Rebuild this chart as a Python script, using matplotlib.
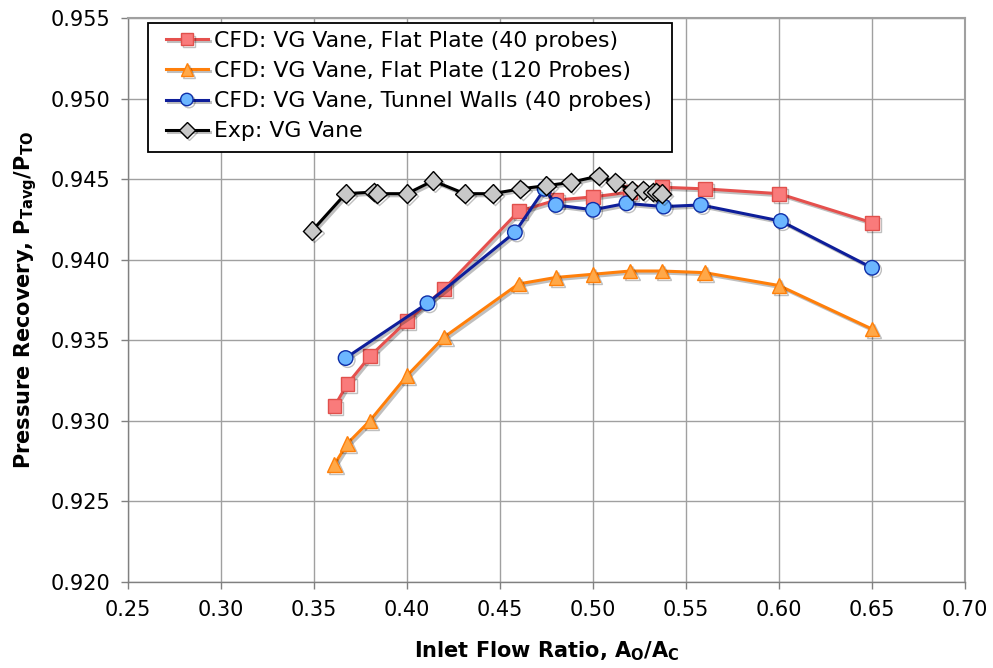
import matplotlib
matplotlib.use('Agg')
import matplotlib.pyplot as plt
import matplotlib.patheffects as pe
from matplotlib.patches import Rectangle

plt.rcParams['font.family'] = 'DejaVu Sans'
plt.rcParams['mathtext.fontset'] = 'dejavusans'
plt.rcParams['mathtext.default'] = 'bf'

font = 15

# CFD: VG Vane, Flat Plate (40 probes)
x_fp40 = [0.361, 0.368, 0.380, 0.400, 0.420, 0.460, 0.480, 0.500, 0.520, 0.537, 0.560, 0.600, 0.650]
y_fp40 = [0.9309, 0.9323, 0.9340, 0.9362, 0.9382, 0.9430, 0.9437, 0.9439, 0.9442, 0.9445, 0.9444, 0.9441, 0.9423]

# CFD: VG Vane, Flat Plate (120 Probes)
x_fp120 = [0.361, 0.368, 0.380, 0.400, 0.420, 0.460, 0.480, 0.500, 0.520, 0.537, 0.560, 0.600, 0.650]
y_fp120 = [0.9273, 0.9286, 0.9300, 0.9328, 0.9352, 0.9385, 0.9389, 0.9391, 0.9393, 0.9393, 0.9392, 0.9384, 0.9357]

# CFD: VG Vane, Tunnel Walls (40 probes)
x_tw40 = [0.367, 0.411, 0.458, 0.474, 0.480, 0.500, 0.518, 0.538, 0.558, 0.601, 0.650]
y_tw40 = [0.9339, 0.9373, 0.9417, 0.9444, 0.9434, 0.9431, 0.9435, 0.9433, 0.9434, 0.9424, 0.9395]

# Exp: VG Vane
x_exp = [0.349, 0.367, 0.382, 0.384, 0.400, 0.414, 0.431, 0.446, 0.461, 0.475, 0.488, 0.503,
         0.512, 0.521, 0.527, 0.532, 0.534, 0.537]
y_exp = [0.9418, 0.9441, 0.9442, 0.9441, 0.9441, 0.9449, 0.9441, 0.9441, 0.9444, 0.9446, 0.9448, 0.9452,
         0.9448, 0.9443, 0.9443, 0.9442, 0.9442, 0.9441]

labels = ['CFD: VG Vane, Flat Plate (40 probes)',
          'CFD: VG Vane, Flat Plate (120 Probes)',
          'CFD: VG Vane, Tunnel Walls (40 probes)',
          'Exp: VG Vane']

W, H = 993, 668
fig = plt.figure(figsize=(W / 100, H / 100), dpi=100)
ax = fig.add_axes([0.1289, 0.1287, 0.8429, 0.8443])

shadow = [pe.SimpleLineShadow(offset=(1.5, -1.5), alpha=0.25, shadow_color='k'), pe.Normal()]

ax.plot(x_fp40, y_fp40, color='#E5504D', lw=2.2, marker='s', ms=10,
        mfc='#F97B7B', mec='#E0504C', mew=1.0, label=labels[0], path_effects=shadow, zorder=3)
ax.plot(x_fp120, y_fp120, color='#FF7F0A', lw=2.2, marker='^', ms=10.5,
        mfc='#FFA848', mec='#FF800A', mew=1.0, label=labels[1], path_effects=shadow, zorder=3)
ax.plot(x_tw40, y_tw40, color='#0E1E9A', lw=2.2, marker='o', ms=10.5,
        mfc='#6CB6FF', mec='#0E2EA8', mew=1.0, label=labels[2], path_effects=shadow, zorder=4)
ax.plot(x_exp, y_exp, color='black', lw=2.2, marker='D', ms=9.5,
        mfc='#C8C8C8', mec='black', mew=1.0, label=labels[3], path_effects=shadow, zorder=5)

ax.set_xlim(0.25, 0.70)
ax.set_ylim(0.920, 0.955)
ax.set_xticks([0.25, 0.30, 0.35, 0.40, 0.45, 0.50, 0.55, 0.60, 0.65, 0.70])
ax.set_yticks([0.920, 0.925, 0.930, 0.935, 0.940, 0.945, 0.950, 0.955])
ax.set_xticklabels(['%.2f' % v for v in ax.get_xticks()])
ax.set_yticklabels(['%.3f' % v for v in ax.get_yticks()])
ax.tick_params(axis='both', labelsize=font, direction='out', length=5, width=1, color='#808080', pad=8)

ax.grid(True, color='#A0A0A0', linewidth=1)
ax.set_axisbelow(True)
for s in ['top', 'right']:
    ax.spines[s].set_color('#A0A0A0')
    ax.spines[s].set_linewidth(1.5)
for s in ['left', 'bottom']:
    ax.spines[s].set_color('#808080')
    ax.spines[s].set_linewidth(1)

ax.set_xlabel(r'Inlet Flow Ratio, A$_{O}$/A$_{C}$', fontsize=font, fontweight='bold', labelpad=14)
ax.set_ylabel(r'Pressure Recovery, P$_{Tavg}$/P$_{TO}$', fontsize=font, fontweight='bold', labelpad=8)

# legend box drawn separately so its padding matches the original
box = Rectangle((148 / W, 1 - 152 / H), (672 - 148) / W, (152 - 23) / H, transform=fig.transFigure,
                facecolor='white', edgecolor='black', linewidth=1.3, zorder=9, clip_on=False)
ax.add_patch(box)

leg = ax.legend(loc='upper left', bbox_to_anchor=(166 / W, 1 - 31 / H), bbox_transform=fig.transFigure,
                fontsize=15.8, frameon=False, handlelength=1.9, handletextpad=0.3,
                labelspacing=0.46, borderpad=0, borderaxespad=0, markerscale=0.85)
leg.set_zorder(10)

plt.savefig('out.png', dpi=100)
